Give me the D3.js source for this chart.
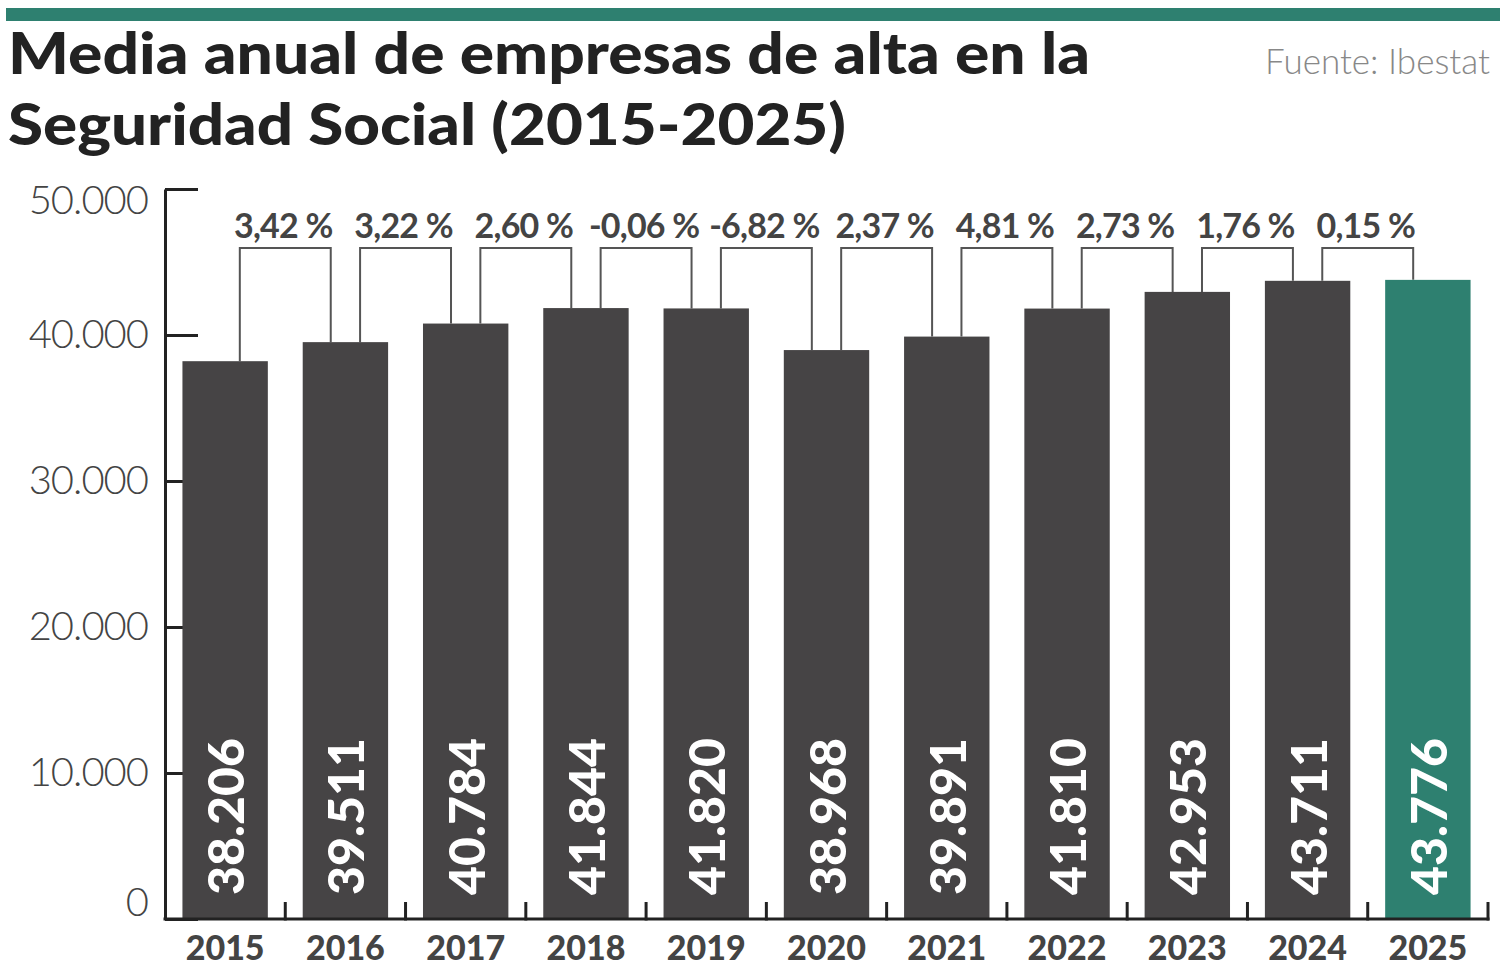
<!DOCTYPE html>
<html>
<head>
<meta charset="utf-8">
<script src="https://cdn.jsdelivr.net/npm/d3@7"></script>
<style>
	body { margin: 0; background: #fff; }
	svg { display: block; }
</style>
</head>
<body>
<div id="graph"></div>
<script>
// data
const years = ["2015", "2016", "2017", "2018", "2019", "2020", "2021", "2022", "2023", "2024", "2025"];
const empresas = [38206, 39511, 40784, 41844, 41820, 38968, 39891, 41810, 42953, 43711, 43776];
const variacion = [3.42, 3.22, 2.60, -0.06, -6.82, 2.37, 4.81, 2.73, 1.76, 0.15];
const yTicks = [0, 10000, 20000, 30000, 40000, 50000];
const highlight = "2025";

const width = 1500;
const height = 972;
const marginLeft = 165;
const marginRight = 12;
const baseline = 919;
const marginTop = 189;

const green = "#2e8070";
const barColor = "#464445";
const textColor = "#444";

const es = d3.formatLocale({ decimal: ",", thousands: ".", grouping: [3], currency: ["", " €"], minus: "-" });
const fmtInt = es.format(",d");
const fmtPct = (v) => es.format(".2f")(v) + " %";

const x = d3.scaleBand(years, [marginLeft, width - marginRight]).paddingInner(0.29).paddingOuter(0.145);
const y = d3.scaleLinear([0, 50000], [baseline, marginTop]);
const center = (d) => x(d) + x.bandwidth() / 2;
const rightEdge = (d) => center(d) + x.step() / 2;

const svg = d3
	.select("#graph")
	.append("svg")
	.attr("width", width)
	.attr("height", height)
	.attr("viewBox", [0, 0, width, height]);

// top rule
svg.append("rect").attr("x", 6).attr("y", 8).attr("width", width - 6).attr("height", 13).attr("fill", green);

// title
const title = svg.append("g")
	.attr("font-family", "Lato")
	.attr("font-weight", 900)
	.attr("font-size", 58)
	.attr("fill", "#222");
title.append("text").attr("x", 8).attr("y", 74)
	.attr("textLength", 1082).attr("lengthAdjust", "spacingAndGlyphs")
	.text("Media anual de empresas de alta en la");
title.append("text").attr("x", 8).attr("y", 145)
	.attr("textLength", 838).attr("lengthAdjust", "spacingAndGlyphs")
	.text("Seguridad Social (2015-2025)");

svg.append("text")
	.attr("x", 1490).attr("y", 74)
	.attr("text-anchor", "end")
	.attr("font-family", "Lato").attr("font-weight", 300).attr("font-size", 35)
	.attr("fill", "#888")
	.text("Fuente: Ibestat");

// y axis (ticks go inward, behind the bars)
svg.append("g")
	.attr("transform", `translate(${marginLeft},0)`)
	.call(d3.axisLeft(y).tickValues(yTicks).tickSize(-33).tickSizeOuter(0).tickPadding(17).tickFormat(fmtInt))
	.call((g) => g.select(".domain").attr("stroke", "#222").attr("stroke-width", 3))
	.call((g) => g.selectAll(".tick line").attr("stroke", "#222").attr("stroke-width", 3))
	.call((g) =>
		g.selectAll(".tick text")
			.attr("font-family", "Lato")
			.attr("font-weight", 300)
			.attr("font-size", 40)
			.attr("letter-spacing", -1)
			.attr("fill", textColor)
			.attr("dy", (d) => (d === 50000 ? "0.62em" : d === 0 ? "-0.08em" : "0.32em"))
	);

// brackets with year-on-year change
const pairs = d3.range(variacion.length);
const bracketY = 248;
const half = x.step() * 0.378;

svg.append("g")
	.attr("fill", "none")
	.attr("stroke", "#555")
	.attr("stroke-width", 2)
	.selectAll("path")
	.data(pairs)
	.join("path")
	.attr("d", (i) => {
		const b = rightEdge(years[i]);
		return `M${b - half},${y(empresas[i])}V${bracketY}H${b + half}V${y(empresas[i + 1])}`;
	});

svg.append("g")
	.attr("font-family", "Lato")
	.attr("font-weight", 700)
	.attr("font-size", 34)
	.attr("letter-spacing", -0.8)
	.attr("fill", textColor)
	.attr("text-anchor", "middle")
	.selectAll("text")
	.data(pairs)
	.join("text")
	.attr("x", (i) => rightEdge(years[i]) - 2)
	.attr("y", 238)
	.text((i) => fmtPct(variacion[i]));

// bars
svg.append("g")
	.selectAll("rect")
	.data(years)
	.join("rect")
	.attr("x", (d) => x(d))
	.attr("y", (d, i) => y(empresas[i]))
	.attr("width", x.bandwidth())
	.attr("height", (d, i) => y(0) - y(empresas[i]))
	.attr("fill", (d) => (d === highlight ? green : barColor));

// values inside bars
svg.append("g")
	.attr("font-family", "Lato")
	.attr("font-weight", 900)
	.attr("font-size", 50)
	.attr("fill", "#fff")
	.selectAll("text")
	.data(years)
	.join("text")
	.attr("transform", (d) => `translate(${center(d) + 19},${y(0) - 24}) rotate(-90)`)
	.text((d, i) => fmtInt(empresas[i]));

// x axis
const xAxis = svg.append("g").attr("transform", `translate(0,${baseline})`);
xAxis.append("line")
	.attr("x1", marginLeft - 1.5).attr("x2", rightEdge(years[years.length - 1]) + 1.5)
	.attr("stroke", "#222").attr("stroke-width", 3);
xAxis.selectAll(".sep")
	.data(years)
	.join("line")
	.attr("class", "sep")
	.attr("x1", (d) => rightEdge(d)).attr("x2", (d) => rightEdge(d))
	.attr("y1", 1.5).attr("y2", -17)
	.attr("stroke", "#222").attr("stroke-width", 3);
xAxis.selectAll(".year")
	.data(years)
	.join("text")
	.attr("class", "year")
	.attr("x", center)
	.attr("y", 41)
	.attr("text-anchor", "middle")
	.attr("font-family", "Lato")
	.attr("font-weight", 900)
	.attr("font-size", 34)
	.attr("fill", textColor)
	.text((d) => d);
</script>
</body>
</html>
